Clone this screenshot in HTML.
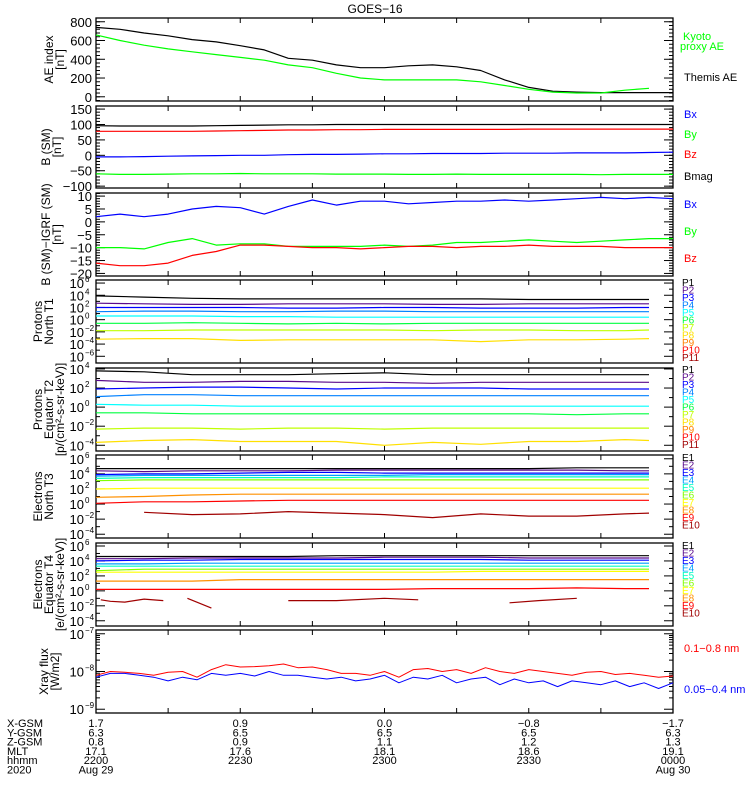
<!DOCTYPE html>
<html><head><meta charset="utf-8"><style>
body{margin:0;background:#fff;}
svg{display:block;font-family:"Liberation Sans",sans-serif;}
</style></head><body>
<svg id="chart" width="750" height="800" viewBox="0 0 750 800" xmlns="http://www.w3.org/2000/svg">
<text x="375" y="13" font-size="12" text-anchor="middle">GOES−16</text>
</svg>
<script>
// ---------- data ----------
const minutes5 = [0,5,10,15,20,25,30,35,40,45,50,55,60,65,70,75,80,85,90,95,100,105,110,115,120];
const themisAE = [740,720,680,650,610,585,545,500,410,390,340,310,310,330,340,320,280,180,100,60,50,45,45,45,45];
const kyotoAE = [660,600,550,510,480,450,420,390,340,310,250,200,180,180,180,180,160,120,80,50,40,40,70,90,95];
const bx = [-5,-5,-4,-3,-2,-1,0,0,2,3,3,4,5,5,6,6,6,7,7,7,8,8,8,9,10];
const by = [-60,-62,-62,-61,-60,-60,-59,-60,-60,-60,-61,-61,-61,-62,-62,-61,-62,-62,-62,-62,-62,-63,-62,-62,-62];
const bz = [78,78,78,78,78,79,80,81,82,82,83,83,84,84,84,84,84,84,85,85,85,85,85,85,85];
const bmag = [96,95,95,95,95,96,97,98,99,99,100,100,100,100,100,100,100,100,100,100,100,100,100,100,100];
const dbx = [2,3,2,3,5,6,5.5,3,6,8.5,6.5,8,8,7,7.5,8,8,8.5,8,8.5,9,9.5,9,9.5,9];
const dby = [-10,-10,-10.5,-8,-6.5,-9,-8.5,-8.5,-9.5,-9.5,-9.5,-9.5,-9,-9.5,-9,-8,-8,-7.5,-7,-7.5,-8,-7.5,-7,-6.5,-6.5];
const dbz = [-16,-17,-17,-16,-13,-11.5,-9,-9,-9.5,-10,-10,-10.5,-10,-9.5,-9.5,-10,-9.5,-9.5,-9,-9.5,-9.5,-9.5,-10,-10,-10];
const minutes10 = [0,10,20,30,40,50,60,70,80,90,100,110,115];
const protonsT1 = [
 [3.9,3.7,3.5,3.4,3.4,3.4,3.4,3.4,3.4,3.3,3.3,3.3,3.3],
 [2.7,2.6,2.5,2.5,2.6,2.6,2.6,2.5,2.5,2.6,2.6,2.6,2.6],
 [2.0,2.0,2.0,2.0,1.9,1.9,2.0,2.0,1.9,1.9,1.9,2.0,2.0],
 [1.3,1.4,1.4,1.3,1.3,1.4,1.4,1.3,1.3,1.3,1.3,1.3,1.3],
 [0.6,0.6,0.6,0.5,0.5,0.4,0.4,0.4,0.4,0.4,0.4,0.4,0.4],
 [-0.6,-0.6,-0.5,-0.6,-0.7,-0.6,-0.7,-0.6,-0.6,-0.6,-0.6,-0.6,-0.6],
 [-1.8,-1.8,-1.7,-1.7,-1.7,-1.7,-1.7,-1.8,-1.7,-1.7,-1.8,-1.8,-1.7],
 [-3.2,-3.1,-3.1,-3.4,-3.3,-3.3,-3.3,-3.3,-3.6,-3.3,-3.3,-3.2,-3.1]];
const protonsT2 = [
 [3.8,3.7,3.4,3.4,3.4,3.5,3.6,3.4,3.4,3.4,3.4,3.4,3.4],
 [2.8,2.6,2.6,2.7,2.7,2.6,2.6,2.5,2.6,2.6,2.6,2.6,2.6],
 [1.9,2.0,2.1,2.1,2.0,1.9,2.0,2.0,2.0,1.9,1.9,1.9,1.9],
 [1.1,1.3,1.3,1.2,1.2,1.2,1.2,1.2,1.2,1.2,1.2,1.2,1.2],
 [0.3,0.2,0.2,0.1,0.1,0.1,0.1,0.1,0.1,0.1,0.1,0.1,0.1],
 [-0.6,-0.6,-0.7,-0.7,-0.7,-0.7,-0.7,-0.7,-0.7,-0.7,-0.8,-0.7,-0.7],
 [-2.3,-2.2,-2.2,-2.3,-2.2,-2.2,-2.3,-2.2,-2.2,-2.2,-2.2,-2.2,-2.2],
 [-3.7,-3.5,-3.4,-3.6,-3.6,-3.6,-4.0,-3.7,-3.9,-3.6,-3.6,-3.4,-3.5]];
const electronsT3 = [
 [4.7,4.7,4.7,4.7,4.7,4.7,4.7,4.7,4.7,4.7,4.8,4.8,4.8],
 [4.4,4.3,4.4,4.4,4.4,4.5,4.5,4.5,4.5,4.5,4.5,4.4,4.4],
 [3.9,4.0,4.0,4.1,4.2,4.2,4.1,4.1,4.1,4.1,4.1,4.1,4.1],
 [3.7,3.8,3.8,3.8,3.8,3.8,3.8,3.9,3.9,3.9,3.9,3.9,3.9],
 [3.4,3.5,3.5,3.5,3.5,3.5,3.6,3.6,3.6,3.6,3.6,3.6,3.6],
 [3.1,3.2,3.2,3.2,3.2,3.2,3.2,3.2,3.2,3.2,3.2,3.2,3.2],
 [2.0,2.1,2.1,2.1,2.1,2.1,2.1,2.1,2.1,2.1,2.1,2.1,2.1],
 [0.9,1.0,1.2,1.3,1.3,1.3,1.3,1.3,1.3,1.3,1.3,1.3,1.3],
 [0.1,0.3,0.3,0.4,0.5,0.5,0.5,0.5,0.5,0.5,0.5,0.5,0.5],
 [null,-1.1,-1.4,-1.3,-1.0,-1.2,-1.4,-1.8,-1.3,-1.6,-1.6,-1.3,-1.2]];
const electronsT4 = [
 [4.6,4.6,4.6,4.6,4.6,4.7,4.7,4.7,4.7,4.7,4.7,4.7,4.7],
 [4.3,4.3,4.4,4.4,4.4,4.4,4.5,4.5,4.5,4.4,4.4,4.4,4.4],
 [4.0,4.1,4.1,4.2,4.2,4.2,4.2,4.2,4.2,4.1,4.1,4.1,4.1],
 [3.6,3.6,3.7,3.7,3.7,3.7,3.7,3.7,3.7,3.7,3.7,3.7,3.7],
 [3.3,3.3,3.3,3.3,3.3,3.3,3.3,3.3,3.3,3.3,3.3,3.3,3.3],
 [2.7,2.9,2.9,2.9,2.9,2.9,2.9,2.9,2.9,2.9,2.9,2.9,2.9],
 [2.5,2.5,2.5,2.5,2.5,2.5,2.5,2.5,2.6,2.6,2.6,2.6,2.6],
 [1.3,1.3,1.3,1.5,1.5,1.5,1.5,1.5,1.5,1.5,1.5,1.5,1.5],
 [0.2,0.2,0.2,0.2,0.2,0.2,0.2,0.3,0.3,0.3,0.4,0.3,0.3]];
const e10T4Minutes = [1,3,6,10,14,16,19,24,26,40,50,60,67,70,86,92,100];
const e10T4Values = [-1.2,-1.4,-1.5,-1.1,-1.3,null,-1.0,-2.3,null,-1.3,-1.3,-1.0,-1.2,null,-1.6,-1.3,-1.0];
const minutes3 = [0,3,6,9,12,15,18,21,24,27,30,33,36,39,42,45,48,51,54,57,60,63,66,69,72,75,78,81,84,87,90,93,96,99,102,105,108,111,114,117,120];
const xrayLong = [-8.1,-8.0,-8.02,-8.05,-8.1,-8.02,-8.0,-8.15,-7.95,-7.82,-7.88,-7.87,-7.85,-7.8,-7.9,-7.88,-7.95,-8.05,-8.05,-8.1,-8.0,-8.15,-7.95,-7.92,-8.0,-7.95,-8.05,-7.9,-8.0,-8.05,-7.95,-8.0,-8.05,-8.1,-8.02,-8.0,-8.08,-8.05,-8.1,-8.15,-8.12];
const xrayShort = [-8.15,-8.05,-8.05,-8.1,-8.15,-8.25,-8.15,-8.22,-8.05,-8.1,-8.05,-8.12,-8.0,-8.1,-8.1,-8.15,-8.2,-8.15,-8.25,-8.2,-8.1,-8.3,-8.15,-8.2,-8.1,-8.3,-8.2,-8.15,-8.35,-8.2,-8.3,-8.25,-8.4,-8.25,-8.3,-8.35,-8.25,-8.4,-8.3,-8.45,-8.3];
const pColors = ['#000000','#5a0a8c','#0000ff','#0080ff','#00ffff','#00ff40','#c0ff00','#ffe000','#ff8000','#ff0000','#a00000'];
const eColors = ['#000000','#5a0a8c','#0000ff','#00a0ff','#00ffc0','#80ff00','#ffff00','#ff9000','#ff0000','#a00000'];
const bottomRowLabels = ['X-GSM','Y-GSM','Z-GSM','MLT','hhmm','2020'];
const bottomCols = [
 ['1.7','6.3','0.8','17.1','2200','Aug 29'],
 ['0.9','6.5','0.9','17.6','2230',''],
 ['0.0','6.5','1.1','18.1','2300',''],
 ['-0.8','6.5','1.2','18.6','2330',''],
 ['-1.7','6.3','1.3','19.1','0000','Aug 30']];
const bottomColMinutes = [0,30,60,90,120];

// ---------- drawing ----------
const svg = document.getElementById('chart');
const NS = 'http://www.w3.org/2000/svg';
const X0 = 96, X1 = 673;
function xs(m){ return X0 + (X1 - X0) * m / 120; }
function mk(tag, attrs, parent){ const e = document.createElementNS(NS, tag); for (const k in attrs) e.setAttribute(k, attrs[k]); (parent||svg).appendChild(e); return e; }
function txt(x, y, s, size, color, anchor, parent){ const t = mk('text', {x:x, y:y, 'font-size':size, fill:color||'#000', 'text-anchor':anchor||'start'}, parent); t.textContent = s; return t; }

function panel(name, top, bot, ymin, ymax, log){
  const g = mk('g', {});
  
  
  const ys = v => bot - (bot - top) * (v - ymin) / (ymax - ymin);
  return {g, top, bot, ys, ymin, ymax, log};
}
function frame(p, majors, minors, labelFn){
  const g = p.g;
  mk('rect', {x:X0, y:p.top, width:X1-X0, height:p.bot-p.top, fill:'none', stroke:'#000', 'stroke-width':1.3}, g);
  for (let m = 15; m < 120; m += 15){
    mk('line', {x1:xs(m), x2:xs(m), y1:p.bot, y2:p.bot-5, stroke:'#000'}, g);
    mk('line', {x1:xs(m), x2:xs(m), y1:p.top, y2:p.top+5, stroke:'#000'}, g);
  }
  minors.forEach(v => { const y = p.ys(v); if (y < p.top || y > p.bot) return;
    mk('line', {x1:X0, x2:X0+4, y1:y, y2:y, stroke:'#000'}, g);
    mk('line', {x1:X1, x2:X1-4, y1:y, y2:y, stroke:'#000'}, g); });
  majors.forEach(v => { const y = p.ys(v); if (y < p.top-1 || y > p.bot+1) return;
    mk('line', {x1:X0, x2:X0+9, y1:y, y2:y, stroke:'#000'}, g);
    mk('line', {x1:X1, x2:X1-9, y1:y, y2:y, stroke:'#000'}, g);
    labelFn(v, y); });
}
function linLabels(p){ return (v, y) => { txt(92, y+5, String(v).replace('-', '−'), 13, '#000', 'end', p.g); }; }
function logLabels(p){ return (v, y) => {
  txt(84, y+5, '10', 13, '#000', 'end', p.g);
  txt(85, y-1, String(v).replace('-', '−'), 8, '#000', 'start', p.g); }; }
function series(p, xsArr, ys, color, name, width){
  let d = '', pen = false;
  ys.forEach((v, i) => { if (v === null || v === undefined){ pen = false; return; }
    const y = Math.max(p.top, Math.min(p.bot, p.ys(v)));
    d += (pen ? 'L' : 'M') + xs(xsArr[i]).toFixed(1) + ' ' + y.toFixed(1); pen = true; });
  const path = mk('path', {d:d, fill:'none', stroke:color, 'stroke-width':width||1.2, 'stroke-linejoin':'round'}, p.g);
  
  
}
function ytitle(p, lines, x){
  const cy = (p.top + p.bot) / 2;
  lines.forEach((s, i) => { const t = txt(0, 0, s, 12, '#000', 'middle', p.g);
    t.setAttribute('transform', 'translate(' + (x + i*11) + ',' + cy + ') rotate(-90)'); });
}
function range(a, b, s){ const r = []; for (let v = a; v <= b + 1e-9; v += s) r.push(+v.toFixed(3)); return r; }
function logMinors(lo, hi){ const r = []; for (let d = lo; d < hi; d++) r.push(d + 1); return r; }

// Panel 1: AE
let p = panel('ae-index-panel', 18, 101, -45, 840, false);
frame(p, [0,200,400,600,800], range(-40, 840, 40), linLabels(p));
series(p, minutes5, themisAE, '#000', 'themis-ae-line');
series(p, minutes5.slice(0,24), kyotoAE.slice(0,24), '#00ff00', 'kyoto-ae-line');
ytitle(p, ['AE index', '[nT]'], 53);
txt(683, 40, 'Kyoto', 11, '#00ff00', 'start', p.g); txt(680, 50, 'proxy AE', 11, '#00ff00', 'start', p.g);
txt(684, 81, 'Themis AE', 11, '#000', 'start', p.g);

// Panel 2: B SM
p = panel('b-sm-panel', 106, 188, -106, 160, false);
frame(p, [-100,-50,0,50,100,150], range(-100, 150, 10), linLabels(p));
series(p, minutes5, bmag, '#000', 'bmag-line');
series(p, minutes5, bz, '#ff0000', 'bz-line');
series(p, minutes5, bx, '#0000ff', 'bx-line');
series(p, minutes5, by, '#00ff00', 'by-line');
ytitle(p, ['B (SM)', '[nT]'], 50);
txt(684, 118, 'Bx', 11, '#0000ff', 'start', p.g); txt(684, 138, 'By', 11, '#00ff00', 'start', p.g);
txt(684, 158, 'Bz', 11, '#ff0000', 'start', p.g); txt(684, 180, 'Bmag', 11, '#000', 'start', p.g);

// Panel 3: dB
p = panel('b-minus-igrf-panel', 193, 276, -21, 11.2, false);
frame(p, [-20,-15,-10,-5,0,5,10], range(-21, 11, 1), linLabels(p));
series(p, minutes5, dbx, '#0000ff', 'dbx-line');
series(p, minutes5, dby, '#00ff00', 'dby-line');
series(p, minutes5, dbz, '#ff0000', 'dbz-line');
ytitle(p, ['B (SM)−IGRF (SM)', '[nT]'], 50);
txt(684, 208, 'Bx', 11, '#0000ff', 'start', p.g); txt(684, 235, 'By', 11, '#00ff00', 'start', p.g);
txt(684, 262, 'Bz', 11, '#ff0000', 'start', p.g);

function chanLegend(g, prefix, n, colors, top){
  for (let i = 0; i < n; i++){ const t = txt(682, top + i*7.5, prefix + (i+1), 10, colors[i], 'start', g);
    
     }
}
// Panel 4: Protons T1
p = panel('protons-north-t1-panel', 280, 363, -7.1, 6.5, true);
frame(p, [-6,-4,-2,0,2,4,6], logMinors(-7,6).filter(v=>v%2!==0), logLabels(p));
protonsT1.forEach((s, i) => series(p, minutes10, s, pColors[i], 'proton-t1-p' + (i+1)));
ytitle(p, ['Protons', 'North T1'], 42);
chanLegend(p.g, 'P', 11, pColors, 286);

// Panel 5: Protons T2
p = panel('protons-equator-t2-panel', 368, 451, -4.6, 4.1, true);
frame(p, [-4,-2,0,2,4], [-3,-1,1,3], logLabels(p));
protonsT2.forEach((s, i) => series(p, minutes10, s, pColors[i], 'proton-t2-p' + (i+1)));
ytitle(p, ['Protons', 'Equator T2', '[p/(cm²-s-sr-keV)]'], 42);
chanLegend(p.g, 'P', 11, pColors, 373);

// Panel 6: Electrons T3
p = panel('electrons-north-t3-panel', 455, 538, -4.5, 6.5, true);
frame(p, [-4,-2,0,2,4,6], [-3,-1,1,3,5], logLabels(p));
electronsT3.forEach((s, i) => series(p, minutes10, s, eColors[i], 'electron-t3-e' + (i+1)));
ytitle(p, ['Electrons', 'North T3'], 42);
chanLegend(p.g, 'E', 10, eColors, 461);

// Panel 7: Electrons T4
p = panel('electrons-equator-t4-panel', 543, 626, -4.7, 6.4, true);
frame(p, [-4,-2,0,2,4,6], [-3,-1,1,3,5], logLabels(p));
electronsT4.forEach((s, i) => series(p, minutes10, s, eColors[i], 'electron-t4-e' + (i+1)));
series(p, e10T4Minutes, e10T4Values, eColors[9], 'electron-t4-e10');
ytitle(p, ['Electrons', 'Equator T4', '[e/(cm²-s-sr-keV)]'], 42);
chanLegend(p.g, 'E', 10, eColors, 549);

// Panel 8: X-ray
p = panel('xray-flux-panel', 630, 713, -9.1, -6.9, true);
const xrMin = []; [-9,-8].forEach(d => { for (let k = 2; k < 10; k++) xrMin.push(d + Math.log10(k)); });
frame(p, [-9,-8,-7], xrMin, logLabels(p));
series(p, minutes3, xrayLong, '#ff0000', 'xray-long-line', 1);
series(p, minutes3, xrayShort, '#0000ff', 'xray-short-line', 1);
ytitle(p, ['Xray flux', '[W/m2]'], 48);
txt(684, 652, '0.1−0.8 nm', 11, '#ff0000', 'start', p.g);
txt(684, 693, '0.05−0.4 nm', 11, '#0000ff', 'start', p.g);

// Bottom annotation
const ann = mk('g', {});


bottomRowLabels.forEach((s, r) => txt(7, 727 + r*9.3, s, 11, '#000', 'start', ann));
bottomCols.forEach((col, c) => col.forEach((s, r) => { if (s) txt(xs(bottomColMinutes[c]), 727 + r*9.3, s.replace('-', '−'), 11, '#000', 'middle', ann); }));
</script>
</body></html>
